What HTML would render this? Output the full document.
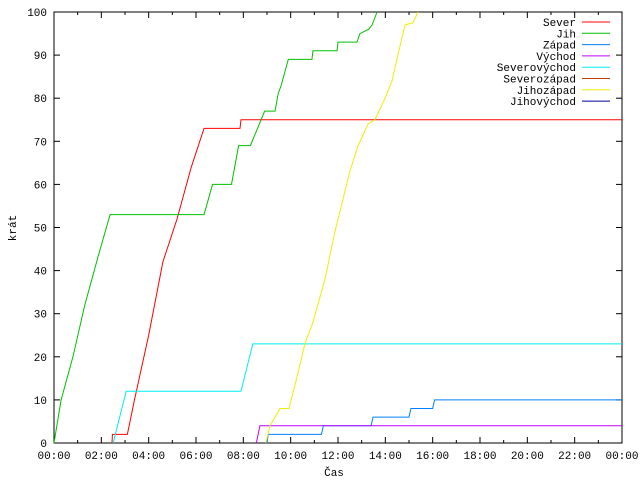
<!DOCTYPE html>
<html><head><meta charset="utf-8"><style>
body{margin:0;background:#fff}
svg{display:block;font-family:"Liberation Mono","DejaVu Sans Mono",monospace;font-size:11px}
</style></head><body>
<svg id="chart" width="640" height="480">
<g id="grid"></g><g id="series"></g><g id="legend"></g>
<text x="334" y="476" text-anchor="middle">Čas</text>
<text transform="translate(16,228) rotate(-90)" text-anchor="middle">krát</text>
</svg>
<script>
const xTickLabels=["00:00","02:00","04:00","06:00","08:00","10:00","12:00","14:00","16:00","18:00","20:00","22:00","00:00"];
const yTickLabels=[0,10,20,30,40,50,60,70,80,90,100];
const seriesNames=["Sever","Jih","Západ","Východ","Severovýchod","Severozápad","Jihozápad","Jihovýchod"];
const seriesColors=["#ff0000","#00c000","#0080ff","#c000ff","#00eeee","#c04000","#eeee00","#0000a0"];
const sever=[[2.45,0],[2.47,2],[3.1,2],[3.4,10],[4.0,25],[4.6,42],[5.2,52],[5.8,64],[6.34,73],[7.86,73],[7.9,75],[24,75]];
const jih=[[0,0],[0.3,10],[0.8,20],[1.3,32],[1.9,44],[2.37,53],[6.34,53],[6.7,60],[7.5,60],[7.8,69],[8.3,69],[8.45,71],[8.9,77],[9.34,77],[9.47,81],[9.6,83],[9.9,89],[10.9,89],[10.94,91],[11.96,91],[12.0,93],[12.8,93],[12.93,95],[13.3,96],[13.44,97],[13.65,100]];
const zapad=[[9.0,0],[9.05,2],[11.3,2],[11.38,4],[13.4,4],[13.48,6],[15.0,6],[15.08,8],[16.0,8],[16.08,10],[24,10]];
const vychod=[[8.55,0],[8.7,4],[24,4]];
const severovychod=[[2.5,0],[3.05,12],[7.9,12],[8.4,23],[24,23]];
const severozapad=[];
const jihozapad=[[8.95,0],[9.13,4],[9.55,8],[9.93,8],[10.3,16],[10.6,23],[10.94,28],[11.45,38],[11.87,49],[12.5,63],[12.85,69],[13.27,74],[13.56,75],[13.99,80],[14.28,84],[14.53,90],[14.83,97],[15.17,97.5],[15.38,100]];
const jihovychod=[];
const allSeries=[sever,jih,zapad,vychod,severovychod,severozapad,jihozapad,jihovychod];
const L=54,R=622,T=12,B=443;
const sx=h=>L+h*(R-L)/24, sy=v=>B-v*(B-T)/100;
const NS="http://www.w3.org/2000/svg";
function mk(t,a,p){const e=document.createElementNS(NS,t);for(const k in a)e.setAttribute(k,a[k]);p.appendChild(e);return e;}
const g=document.getElementById('grid');
const frame=mk('rect',{x:L,y:T,width:R-L,height:B-T,fill:'none',stroke:'#000','stroke-width':1},g);


for(let h=0;h<=24;h++){const x=sx(h),len=h%2?3:6;
 mk('line',{x1:x,y1:B,x2:x,y2:B-len,stroke:'#000'},g);mk('line',{x1:x,y1:T,x2:x,y2:T+len,stroke:'#000'},g);}
xTickLabels.forEach((s,i)=>{const t=mk('text',{x:sx(i*2),y:459,'text-anchor':'middle'},g);t.textContent=s;
 
 });
yTickLabels.forEach(v=>{const y=sy(v);mk('line',{x1:L,y1:y,x2:L+6,y2:y,stroke:'#000'},g);mk('line',{x1:R,y1:y,x2:R-6,y2:y,stroke:'#000'},g);
 const t=mk('text',{x:47,y:y+4,'text-anchor':'end'},g);t.textContent=v;
 
 });
const sg=document.getElementById('series');
allSeries.forEach((d,i)=>{if(!d.length)return;
 const p=mk('polyline',{points:d.map(q=>sx(q[0])+','+sy(q[1])).join(' '),fill:'none',stroke:seriesColors[i],'stroke-width':1},sg);
 
 });
const lg=document.getElementById('legend');
seriesNames.forEach((n,i)=>{const y=22+i*11.3;
 const t=mk('text',{x:576,y:y+4,'text-anchor':'end'},lg);t.textContent=n;
 
 
 mk('line',{x1:582,y1:y,x2:610,y2:y,stroke:seriesColors[i]},lg);});
</script>
</body></html>
